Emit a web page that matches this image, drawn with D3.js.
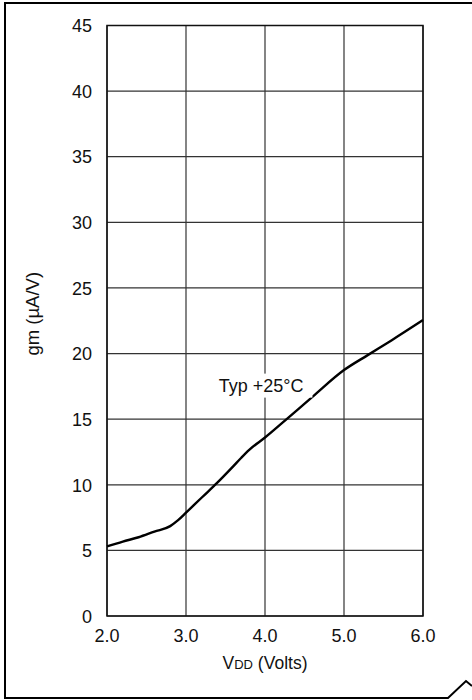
<!DOCTYPE html>
<html>
<head>
<meta charset="utf-8">
<script src="https://cdn.jsdelivr.net/npm/d3@7"></script>
<style>
  html, body { margin: 0; padding: 0; background: #fff; }
  svg { display: block; }
  text { font-family: "Liberation Sans", Arial, Helvetica, sans-serif; fill: #111; }
</style>
</head>
<body>
<div id="chart"></div>
<script>
// ---- data ----
const vddValues = [2.0, 2.2, 2.4, 2.6, 2.8, 2.9, 3.0, 3.2, 3.4, 3.6, 3.7, 3.8, 4.0, 4.3, 4.6, 5.0, 5.3, 5.6, 6.0];
const gmValues  = [5.3, 5.67, 6.0, 6.43, 6.85, 7.3, 7.87, 9.03, 10.18, 11.42, 12.06, 12.66, 13.6, 15.14, 16.7, 18.74, 19.88, 21.0, 22.55];
const xTicks = [2.0, 3.0, 4.0, 5.0, 6.0];
const xTickLabels = ["2.0", "3.0", "4.0", "5.0", "6.0"];
const yTicks = [0, 5, 10, 15, 20, 25, 30, 35, 40, 45];
const yTickLabels = ["0", "5", "10", "15", "20", "25", "30", "35", "40", "45"];
const curveLabel = "Typ +25°C";
const labelAnchor = { x: 3.95, y: 17.1 };

const W = 472, H = 700;
const margin = { left: 107, top: 25.5, right: 49, bottom: 84 };
const fontSize = 18;

const svg = d3.select("#chart").append("svg").attr("width", W).attr("height", H);

// outer frame with folded corner
svg.append("path")
  .attr("d", `M${W},3 H5 V698 H448 L466,681 L${W},686`)
  .attr("fill", "none").attr("stroke", "#000").attr("stroke-width", 2);

const x = d3.scaleLinear().domain([2, 6]).range([margin.left, W - margin.right]);
const y = d3.scaleLinear().domain([0, 45]).range([H - margin.bottom, margin.top]);

// grid
const g = svg.append("g");
g.selectAll("line.v").data(xTicks).join("line")
  .attr("x1", d => x(d)).attr("x2", d => x(d))
  .attr("y1", y(0)).attr("y2", y(45))
  .attr("stroke", "#333").attr("stroke-width", 1.2);
g.selectAll("line.h").data(yTicks).join("line")
  .attr("x1", x(2)).attr("x2", x(6))
  .attr("y1", d => y(d)).attr("y2", d => y(d))
  .attr("stroke", "#333").attr("stroke-width", 1.2);

// frame
svg.append("rect")
  .attr("x", x(2)).attr("y", y(45))
  .attr("width", x(6) - x(2)).attr("height", y(0) - y(45))
  .attr("fill", "none").attr("stroke", "#111").attr("stroke-width", 1.5);

// curve
const pts = vddValues.map((v, i) => [v, gmValues[i]]);
const line = d3.line().x(d => x(d[0])).y(d => y(d[1])).curve(d3.curveMonotoneX);
svg.append("path").datum(pts).attr("d", line)
  .attr("fill", "none").attr("stroke", "#000").attr("stroke-width", 2.4);

// label with white box
const lab = svg.append("g");
const lt = lab.append("text")
  .attr("x", x(labelAnchor.x)).attr("y", y(labelAnchor.y))
  .attr("text-anchor", "middle").attr("font-size", fontSize)
  .text(curveLabel);
const bb = lt.node().getBBox();
lab.insert("rect", "text")
  .attr("x", bb.x - 3).attr("y", bb.y - 2)
  .attr("width", bb.width + 12).attr("height", bb.height + 4)
  .attr("fill", "#fff");

// y tick labels
svg.selectAll("text.yt").data(yTicks).join("text")
  .attr("class", "yt")
  .attr("x", x(2) - 15).attr("y", d => y(d) + 2)
  .attr("text-anchor", "end").attr("dominant-baseline", "middle")
  .attr("font-size", fontSize)
  .text((d, i) => yTickLabels[i]);

// x tick labels
svg.selectAll("text.xt").data(xTicks).join("text")
  .attr("class", "xt")
  .attr("x", d => x(d)).attr("y", y(0) + 26)
  .attr("text-anchor", "middle")
  .attr("font-size", fontSize)
  .text((d, i) => xTickLabels[i]);

// x axis title
const xt = svg.append("text")
  .attr("x", (x(2) + x(6)) / 2).attr("y", y(0) + 53)
  .attr("text-anchor", "middle").attr("font-size", 17.5);
xt.append("tspan").text("V");
xt.append("tspan").attr("font-size", 13).text("DD");
xt.append("tspan").text(" (Volts)");

// y axis title
svg.append("text")
  .attr("transform", `translate(39,${(y(0) + y(45)) / 2 - 7}) rotate(-90)`)
  .attr("text-anchor", "middle").attr("font-size", 18.5)
  .text("gm (µA/V)");
</script>
</body>
</html>
